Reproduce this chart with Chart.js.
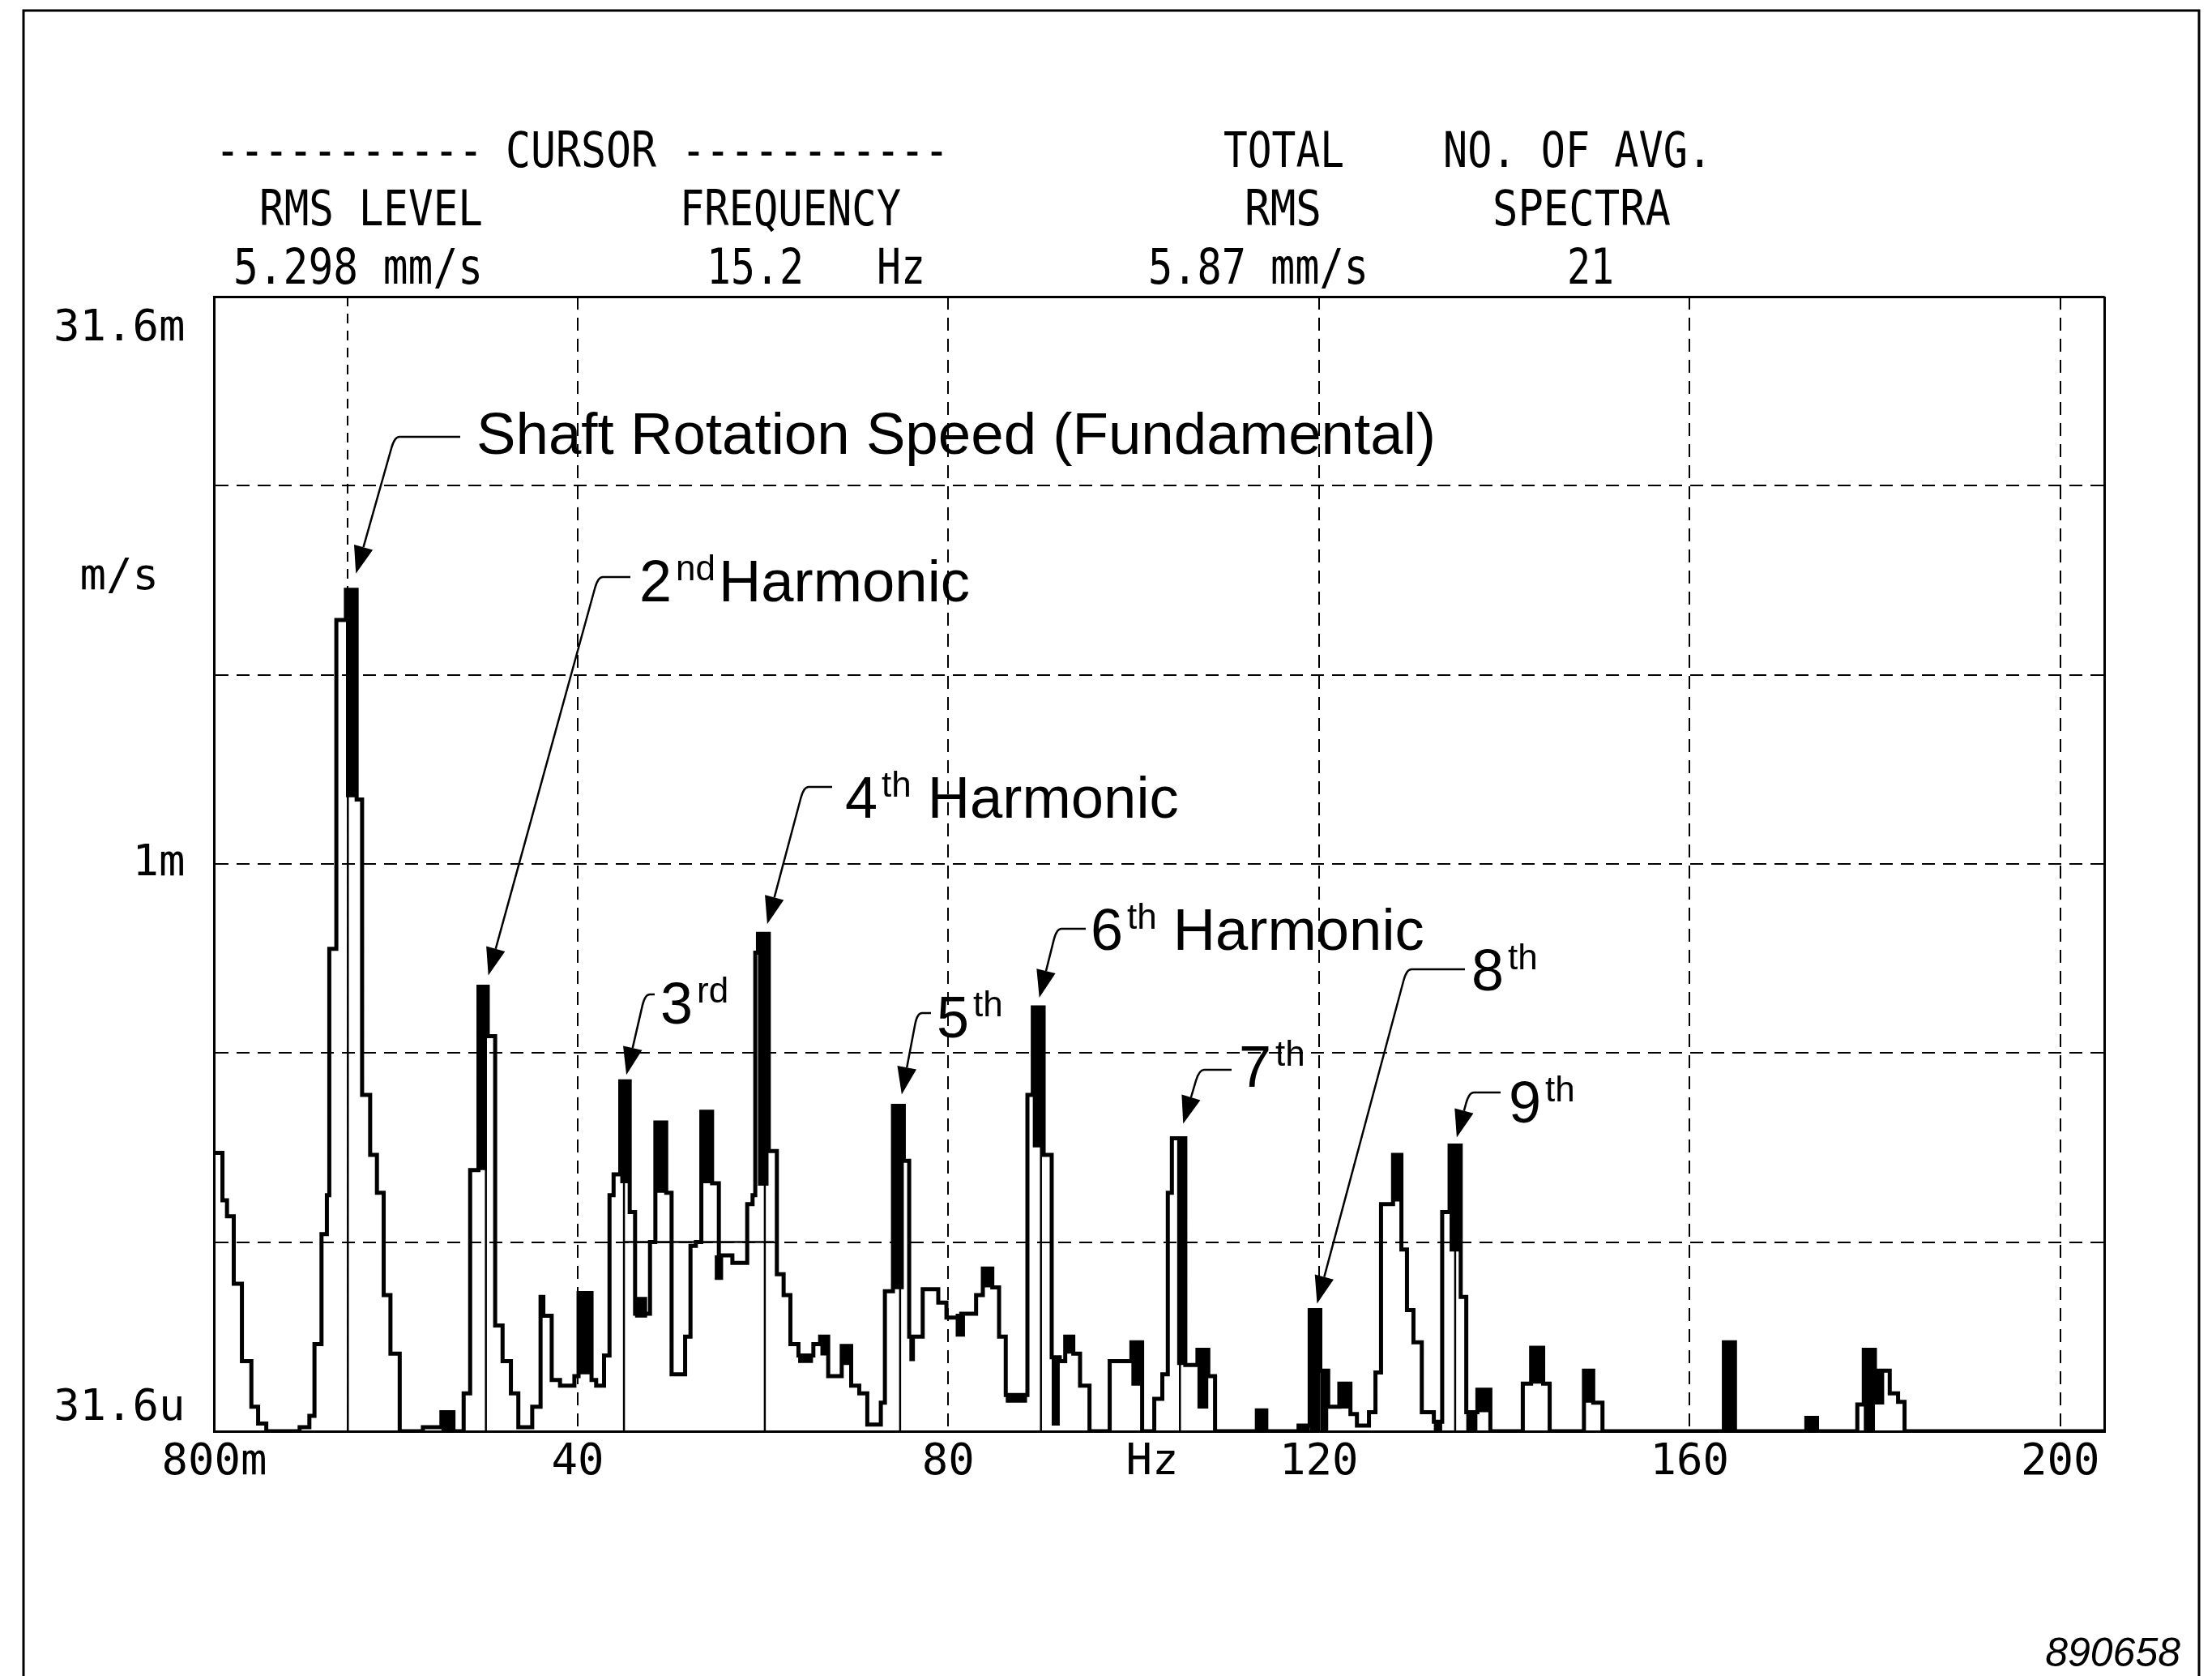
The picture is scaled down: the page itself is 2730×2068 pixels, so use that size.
<!DOCTYPE html>
<html>
<head>
<meta charset="utf-8">
<script src="https://cdn.jsdelivr.net/npm/chart.js@4.4.1/dist/chart.umd.min.js"></script>
<style>
html,body{margin:0;padding:0;background:#fff;}
canvas{display:block;}
</style>
</head>
<body>
<canvas id="c" width="2730" height="2068" style="width:2730px;height:2068px"></canvas>
<script>
// ---------------- DATA ----------------
// spectrum trace: start frequency of each step (Hz) and its RMS level (m/s)
const traceFreq = [0.8,1.67,2.16,2.89,3.77,4.79,5.52,6.4,10.0,11.05,
  11.6,12.36,12.94,13.2,13.96,14.99,16.15,16.74,17.61,18.34,
  19.07,19.8,20.8,23.3,25.3,26.6,27.7,28.4,29.3,30.3,
  31.1,31.9,32.8,33.6,35.1,36.0,36.3,37.2,38.1,39.65,
  40.1,41.5,42.0,42.85,43.44,43.88,44.6,45.62,46.2,47.81,
  48.39,49.56,50.14,51.6,52.18,52.76,53.35,54.51,55.24,56.7,
  58.3,58.88,59.17,59.46,60.63,61.5,62.23,62.96,63.83,65.44,
  66.17,67.04,68.5,69.52,70.39,71.26,72.72,73.16,74.03,75.2,
  75.78,77.24,78.92,79.8,81.4,83.0,83.73,84.75,85.48,86.2,
  88.54,89.12,90.29,91.16,92.03,92.62,93.49,94.22,95.24,97.42,
  99.76,100.92,102.23,103.1,103.69,104.13,105.58,106.89,108.06,108.79,
  113.3,114.32,117.8,119.0,120.15,121.0,122.2,123.4,124.1,125.4,
  126.1,126.7,128.0,128.9,129.5,130.2,131.1,132.4,133.3,134.1,
  135.3,135.9,137.1,138.5,142.0,142.9,144.2,144.9,148.6,149.6,
  150.6,163.7,164.9,172.6,173.75,178.1,178.8,180.0,181.6,182.5,
  183.2,204.8];
const traceLevel = [1.72e-4,1.29e-4,1.17e-4,7.76e-5,4.84e-5,3.67e-5,3.31e-5,3.16e-5,3.24e-5,3.47e-5,
  5.37e-5,1.05e-4,1.33e-4,5.96e-4,4.41e-3,5.30e-3,1.48e-3,2.45e-4,1.70e-4,1.35e-4,
  7.24e-5,5.07e-5,3.16e-5,3.24e-5,3.55e-5,3.16e-5,3.98e-5,1.55e-4,4.73e-4,3.50e-4,
  6.02e-5,4.84e-5,3.98e-5,3.24e-5,3.67e-5,7.16e-5,6.38e-5,4.32e-5,4.17e-5,4.42e-5,
  7.33e-5,4.32e-5,4.17e-5,5.01e-5,1.33e-4,1.51e-4,2.66e-4,1.20e-4,6.46e-5,1.00e-4,
  2.07e-4,1.35e-4,4.47e-5,5.62e-5,9.77e-5,1.00e-4,2.21e-4,1.43e-4,9.22e-5,8.81e-5,
  1.26e-4,1.33e-4,5.82e-4,6.53e-4,1.74e-4,8.22e-5,7.24e-5,5.37e-5,5.01e-5,5.37e-5,
  5.62e-5,4.42e-5,5.31e-5,4.17e-5,3.98e-5,3.29e-5,3.76e-5,7.41e-5,2.29e-4,1.64e-4,
  5.62e-5,7.50e-5,6.92e-5,6.31e-5,6.46e-5,7.24e-5,8.51e-5,7.59e-5,5.62e-5,3.94e-5,
  2.45e-4,4.17e-4,1.70e-4,4.96e-5,4.84e-5,5.62e-5,5.07e-5,4.17e-5,3.16e-5,4.84e-5,
  5.43e-5,3.16e-5,3.85e-5,4.47e-5,1.35e-4,1.88e-4,4.73e-5,5.19e-5,4.42e-5,3.16e-5,
  3.59e-5,3.16e-5,3.27e-5,6.61e-5,4.57e-5,3.67e-5,4.22e-5,3.51e-5,3.27e-5,3.55e-5,
  4.52e-5,1.26e-4,1.70e-4,9.55e-5,6.61e-5,5.43e-5,3.55e-5,3.35e-5,1.20e-4,1.80e-4,
  7.16e-5,3.55e-5,4.07e-5,3.16e-5,4.22e-5,5.25e-5,4.22e-5,3.16e-5,4.57e-5,3.76e-5,
  3.16e-5,5.43e-5,3.16e-5,3.43e-5,3.16e-5,3.72e-5,5.19e-5,4.57e-5,3.98e-5,3.78e-5,
  3.16e-5,3.16e-5];

// densely over-plotted (solid black) parts of the trace
const denseStart = [15.0,25.3,29.3,40.1,44.6,46.2,48.4,53.35,54.8,59.46,
  63.8,66.2,68.5,74.03,75.8,80.8,83.73,86.2,89.12,91.16,
  92.62,99.76,104.7,106.89,113.3,117.8,119.0,120.15,122.2,128.0,
  132.4,134.1,135.9,137.1,142.9,148.6,163.7,172.6,178.8,180.0];
const denseEnd = [16.0,26.6,30.2,41.5,45.6,47.5,49.5,54.5,55.7,60.6,
  65.4,67.0,69.5,75.2,76.4,81.8,84.75,88.5,90.29,92.03,
  93.49,100.92,105.58,108.06,114.32,119.0,120.15,121.0,123.4,128.9,
  133.3,135.3,137.1,138.5,144.2,149.6,164.9,173.75,180.0,181.0];
const denseLow = [1.50e-3,3.16e-5,1.55e-4,4.47e-5,1.43e-4,6.31e-5,1.35e-4,1.43e-4,7.94e-5,1.41e-4,
  4.79e-5,5.01e-5,4.73e-5,7.50e-5,4.84e-5,5.62e-5,7.59e-5,3.76e-5,1.78e-4,3.27e-5,
  5.07e-5,4.17e-5,4.73e-5,3.63e-5,3.16e-5,3.16e-5,3.16e-5,3.16e-5,3.63e-5,1.28e-4,
  3.16e-5,9.44e-5,3.16e-5,3.55e-5,4.22e-5,3.76e-5,3.16e-5,3.16e-5,3.16e-5,3.72e-5];
const denseHigh = [5.30e-3,3.55e-5,4.73e-4,7.33e-5,2.66e-4,7.16e-5,2.07e-4,2.21e-4,9.22e-5,6.53e-4,
  5.01e-5,5.62e-5,5.31e-5,2.29e-4,5.62e-5,6.46e-5,8.51e-5,3.94e-5,4.17e-4,4.96e-5,
  5.62e-5,5.43e-5,1.88e-4,5.19e-5,3.59e-5,3.27e-5,6.61e-5,4.57e-5,4.22e-5,1.70e-4,
  3.35e-5,1.80e-4,3.55e-5,4.07e-5,5.25e-5,4.57e-5,5.43e-5,3.43e-5,5.19e-5,4.57e-5];

// harmonic markers (fundamental + 2nd..9th)
const harmonicFreq = [15.2,30.1,45.0,60.2,74.8,90.0,105.0,119.8,134.7];
const harmonicPeak = [5.30e-3,4.73e-4,2.66e-4,6.53e-4,2.29e-4,4.17e-4,1.88e-4,6.61e-5,1.80e-4];
const bandFreq = [45.0, 61.2];
const bandLevel = [1.0e-4, 1.0e-4];
const cursorFreq = 15.2;

// axis ticks
const xTickValues = [0.8, cursorFreq, 40, 80, 102, 120, 160, 200, 204.8];
const xTickLabels = ['800m', '', '40', '80', 'Hz', '120', '160', '200', ''];
const yTickValues = [3.16e-5, 3.63e-5, 1e-4, 3.16e-4, 1e-3, 3.16e-3, 5.70e-3, 1e-2, 2.60e-2, 3.16e-2];
const yTickLabels = ['', '31.6u', '', '', '1m', '', 'm/s ', '', '31.6m', ''];

// header text
const headerText = [
  ['-----------', 'CURSOR', '-----------', 'TOTAL', 'NO. OF AVG.'],
  ['RMS LEVEL', 'FREQUENCY', 'RMS', 'SPECTRA'],
  ['5.298 mm/s', '15.2', 'Hz', '5.87 mm/s', '21']
];
const annotationText = [
  ['', '', 'Shaft Rotation Speed (Fundamental)'],
  ['2', 'nd', 'Harmonic'],
  ['3', 'rd', ''],
  ['4', 'th', 'Harmonic'],
  ['5', 'th', ''],
  ['6', 'th', 'Harmonic'],
  ['7', 'th', ''],
  ['8', 'th', ''],
  ['9', 'th', '']
];
const footerText = '890658';

// ---------------- STYLE / LAYOUT ----------------
const xGridStyle = ['solid', 'cursor', 'dash', 'dash', 'none', 'dash', 'dash', 'dash', 'solid'];
const yGridStyle = ['solid', 'none', 'dash', 'dash', 'dash', 'dash', 'none', 'dash', 'none', 'solid'];
const headerLayout = [
  [[266,330],[624,186],[841,330],[1510,149],[1781,332]],
  [[320,276],[839,273],[1536,95],[1842,220]],
  [[288,308],[872,120],[1082,60],[1417,272],[1934,58]]
];
const headerBaselines = [206, 278, 350];
// x: text left, base: text baseline, ly: leader y, lx1: leader start (near text), lx2: elbow x, gap/dx: arrow tip offsets
const annotationLayout = [
  {x:588,  base:560,  ly:539,  lx1:568,  lx2:487,  gap:20, dx:10, wordW:1184, space:false},
  {x:789,  base:742,  ly:712,  lx1:778,  lx2:738,  gap:14, dx:3,  wordW:310,  space:false},
  {x:815,  base:1263, ly:1227, lx1:808,  lx2:796,  gap:8,  dx:3,  wordW:0,    space:false},
  {x:1043, base:1009, ly:971,  lx1:1027, lx2:992,  gap:12, dx:3,  wordW:310,  space:true},
  {x:1156, base:1280, ly:1250, lx1:1149, lx2:1132, gap:14, dx:2,  wordW:0,    space:false},
  {x:1346, base:1172, ly:1146, lx1:1340, lx2:1304, gap:12, dx:-2, wordW:310,  space:true},
  {x:1529, base:1341, ly:1320, lx1:1520, lx2:1480, gap:18, dx:4,  wordW:0,    space:false},
  {x:1816, base:1222, ly:1196, lx1:1808, lx2:1736, gap:8,  dx:0,  wordW:0,    space:false},
  {x:1862, base:1385, ly:1348, lx1:1852, lx2:1813, gap:10, dx:2,  wordW:0,    space:false}
];
const MONO = "'DejaVu Sans Mono', monospace";
const SANS = "'Liberation Sans', Arial, sans-serif";

// ---------------- BUILD DATASETS ----------------
const tracePoints = traceFreq.map((f, i) => ({x: f, y: traceLevel[i]}));
const densePoints = [];
denseStart.forEach((s, i) => {
  const e = denseEnd[i];
  densePoints.push({x: s, y: denseLow[i]}, {x: s, y: denseHigh[i]},
                   {x: e, y: denseHigh[i]}, {x: e, y: denseLow[i]}, {x: e, y: null});
});
const markerPoints = [];
harmonicFreq.forEach((f, i) => {
  markerPoints.push({x: f, y: 3.16e-5}, {x: f, y: harmonicPeak[i]}, {x: f, y: null});
});
const bandPoints = bandFreq.map((f, i) => ({x: f, y: bandLevel[i]}));

function fitText(ctx, text, x, baseline, font, width) {
  ctx.save();
  ctx.font = font;
  const w = ctx.measureText(text).width;
  ctx.translate(x, baseline);
  if (width && w > 0) ctx.scale(width / w, 1);
  ctx.textAlign = 'left';
  ctx.textBaseline = 'alphabetic';
  ctx.fillText(text, 0, 0);
  ctx.restore();
}

const overlay = {
  id: 'overlay',
  afterDraw(chart) {
    const ctx = chart.ctx;
    const xs = chart.scales.x, ys = chart.scales.y;
    ctx.save();
    ctx.fillStyle = '#000';
    ctx.strokeStyle = '#000';
    // outer frame
    ctx.lineWidth = 3;
    ctx.beginPath();
    ctx.moveTo(29, 2068); ctx.lineTo(29, 13); ctx.lineTo(2714, 13); ctx.lineTo(2714, 2068);
    ctx.stroke();
    // header
    headerText.forEach((row, r) => row.forEach((t, k) => {
      fitText(ctx, t, headerLayout[r][k][0], headerBaselines[r], '60px ' + MONO, headerLayout[r][k][1]);
    }));
    // annotations
    annotationText.forEach((a, i) => {
      const L = annotationLayout[i];
      let x = L.x;
      ctx.font = '72px ' + SANS;
      if (a[0]) {
        ctx.textAlign = 'left'; ctx.textBaseline = 'alphabetic';
        ctx.fillText(a[0], x, L.base);
        x += ctx.measureText(a[0]).width + 5;
      }
      if (a[1]) {
        ctx.font = '44px ' + SANS;
        ctx.fillText(a[1], x, L.base - 26);
        x += ctx.measureText(a[1]).width;
      }
      if (a[2]) {
        if (a[0]) x += L.space ? 20 : 4;
        fitText(ctx, a[2], x, L.base, '72px ' + SANS, L.wordW);
      }
      // leader + arrow to the harmonic peak
      const tx = xs.getPixelForValue(harmonicFreq[i]) + L.dx;
      const ty = ys.getPixelForValue(harmonicPeak[i]) - L.gap;
      const ex = L.lx2, ey = L.ly;
      const dxv = tx - ex, dyv = ty - ey;
      const len = Math.hypot(dxv, dyv);
      const ux = dxv / len, uy = dyv / len;
      const ah = 34, aw = 12;
      const bx = tx - ux * ah, by = ty - uy * ah;
      ctx.lineWidth = 2.5;
      ctx.beginPath();
      ctx.moveTo(L.lx1, ey);
      ctx.lineTo(ex + 6, ey);
      ctx.quadraticCurveTo(ex, ey, ex + ux * 14, ey + uy * 14);
      ctx.lineTo(bx, by);
      ctx.stroke();
      ctx.beginPath();
      ctx.moveTo(tx, ty);
      ctx.lineTo(bx - uy * aw, by + ux * aw);
      ctx.lineTo(bx + uy * aw, by - ux * aw);
      ctx.closePath();
      ctx.fill();
    });
    // footer number
    ctx.font = 'italic 50px ' + SANS;
    ctx.textAlign = 'right';
    ctx.textBaseline = 'alphabetic';
    ctx.fillText(footerText, 2691, 2056);
    ctx.restore();
  }
};

new Chart(document.getElementById('c'), {
  type: 'line',
  data: {
    datasets: [
      {label: 'spectrum', data: tracePoints, stepped: true, borderColor: '#000', borderWidth: 5,
       pointRadius: 0, fill: false, tension: 0, borderJoinStyle: 'miter', borderCapStyle: 'butt'},
      {label: 'dense', data: densePoints, borderWidth: 0, borderColor: '#000', backgroundColor: '#000',
       fill: 'shape', pointRadius: 0, spanGaps: false, tension: 0},
      {label: 'harmonic markers', data: markerPoints, borderWidth: 2.5, borderColor: '#000',
       pointRadius: 0, spanGaps: false, fill: false, tension: 0},
      {label: 'band', data: bandPoints, borderWidth: 2.5, borderColor: '#000',
       pointRadius: 0, fill: false, tension: 0}
    ]
  },
  options: {
    responsive: false,
    animation: false,
    devicePixelRatio: 1,
    events: [],
    layout: {padding: {top: 366, right: 132.4, left: 0, bottom: 0}},
    plugins: {legend: {display: false}, tooltip: {enabled: false}},
    scales: {
      x: {
        type: 'linear', min: 0.8, max: 204.8, bounds: 'data',
        afterBuildTicks: s => { s.ticks = xTickValues.map(v => ({value: v})); },
        afterFit: s => { s.height = 302; },
        ticks: {autoSkip: false, maxRotation: 0, minRotation: 0, padding: 7, color: '#000',
                font: {family: MONO, size: 54}, callback: (v, i) => xTickLabels[i]},
        grid: {drawTicks: false,
               color: c => xGridStyle[c.index] === 'none' ? 'rgba(0,0,0,0)' : '#000',
               lineWidth: c => xGridStyle[c.index] === 'solid' ? 3 : 2},
        border: {display: true, color: '#000', width: 3,
                 dash: c => xGridStyle[c.index] === 'dash' ? [16, 10] :
                            (xGridStyle[c.index] === 'cursor' ? [12, 9] : [])}
      },
      y: {
        type: 'logarithmic', min: 3.16e-5, max: 3.16e-2, bounds: 'data',
        afterBuildTicks: s => { s.ticks = yTickValues.map(v => ({value: v})); },
        afterFit: s => { s.width = 264.6; },
        ticks: {autoSkip: false, padding: 36, color: '#000',
                font: {family: MONO, size: 54}, callback: (v, i) => yTickLabels[i]},
        grid: {drawTicks: false,
               color: c => yGridStyle[c.index] === 'none' ? 'rgba(0,0,0,0)' : '#000',
               lineWidth: c => yGridStyle[c.index] === 'solid' ? 3 : 2},
        border: {display: true, color: '#000', width: 3,
                 dash: c => yGridStyle[c.index] === 'dash' ? [16, 10] : []}
      }
    }
  },
  plugins: [overlay]
});
</script>
</body>
</html>
